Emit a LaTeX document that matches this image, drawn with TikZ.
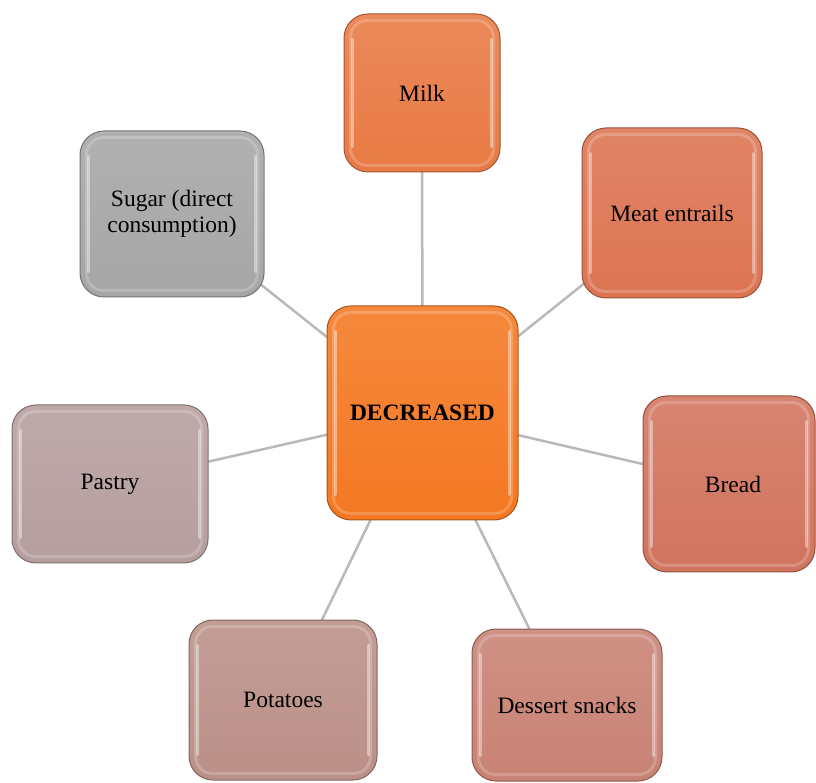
\documentclass[tikz,border=0pt]{standalone}
\usepackage{fontspec}
\setmainfont{Liberation Serif}
\usetikzlibrary{backgrounds}
\definecolor{cC}{RGB}{244,120,34}
\definecolor{cMilk}{RGB}{232,122,68}
\definecolor{cMeat}{RGB}{220,116,82}
\definecolor{cBread}{RGB}{210,116,94}
\definecolor{cDes}{RGB}{200,130,116}
\definecolor{cPot}{RGB}{186,144,136}
\definecolor{cPas}{RGB}{182,158,158}
\definecolor{cSug}{RGB}{166,166,166}
\definecolor{lnk}{RGB}{185,185,185}
\tikzset{
  boxst/.style={rounded corners=24pt, line width=1pt, inner sep=4pt,
    font=\fontsize{23.5}{26}\selectfont, align=center, text=black},
  hl/.style={draw=white, draw opacity=0.2, line width=3pt, rounded corners=17pt},
  hlside/.style={draw=white, draw opacity=0.4, line width=3.5pt, line cap=round},
  link/.style={draw=lnk, line width=2.5pt}
}
\newcommand\mybox[7]{%
  \node[boxst, minimum width=#4pt, minimum height=#5pt,
        top color=#6!88!white, bottom color=#6, draw=#6!70!black] (#1) at (#2,#3) {#7};
  \draw[hl] ([xshift=7pt,yshift=-7pt]#1.north west) rectangle ([xshift=-7pt,yshift=7pt]#1.south east);
  \draw[hlside] ([xshift=9pt,yshift=-26pt]#1.north west) -- ([xshift=9pt,yshift=26pt]#1.south west);
  \draw[hlside] ([xshift=-9pt,yshift=-26pt]#1.north east) -- ([xshift=-9pt,yshift=26pt]#1.south east);
}
\begin{document}
\begin{tikzpicture}[x=1pt,y=1pt]
\useasboundingbox (0,0) rectangle (816,782);
\mybox{c}{422.5}{369}{191}{214}{cC}{\bfseries DECREASED}
\mybox{milk}{422}{689}{156}{158}{cMilk}{Milk}
\mybox{meat}{672}{569}{180}{170}{cMeat}{Meat entrails}
\mybox{bread}{729}{298}{172}{176}{cBread}{\hspace*{8pt}Bread}
\mybox{des}{567}{77}{190}{152}{cDes}{Dessert snacks}
\mybox{pot}{283}{82}{188}{160}{cPot}{Potatoes}
\mybox{pas}{110}{298}{196}{158}{cPas}{Pastry}
\mybox{sug}{172}{568}{184}{166}{cSug}{Sugar (direct\\consumption)}
\begin{scope}[on background layer]
\foreach \n in {milk,meat,bread,des,pot,pas,sug}
  \draw[link] (c.center) -- (\n.center);
\end{scope}
\end{tikzpicture}
\end{document}
